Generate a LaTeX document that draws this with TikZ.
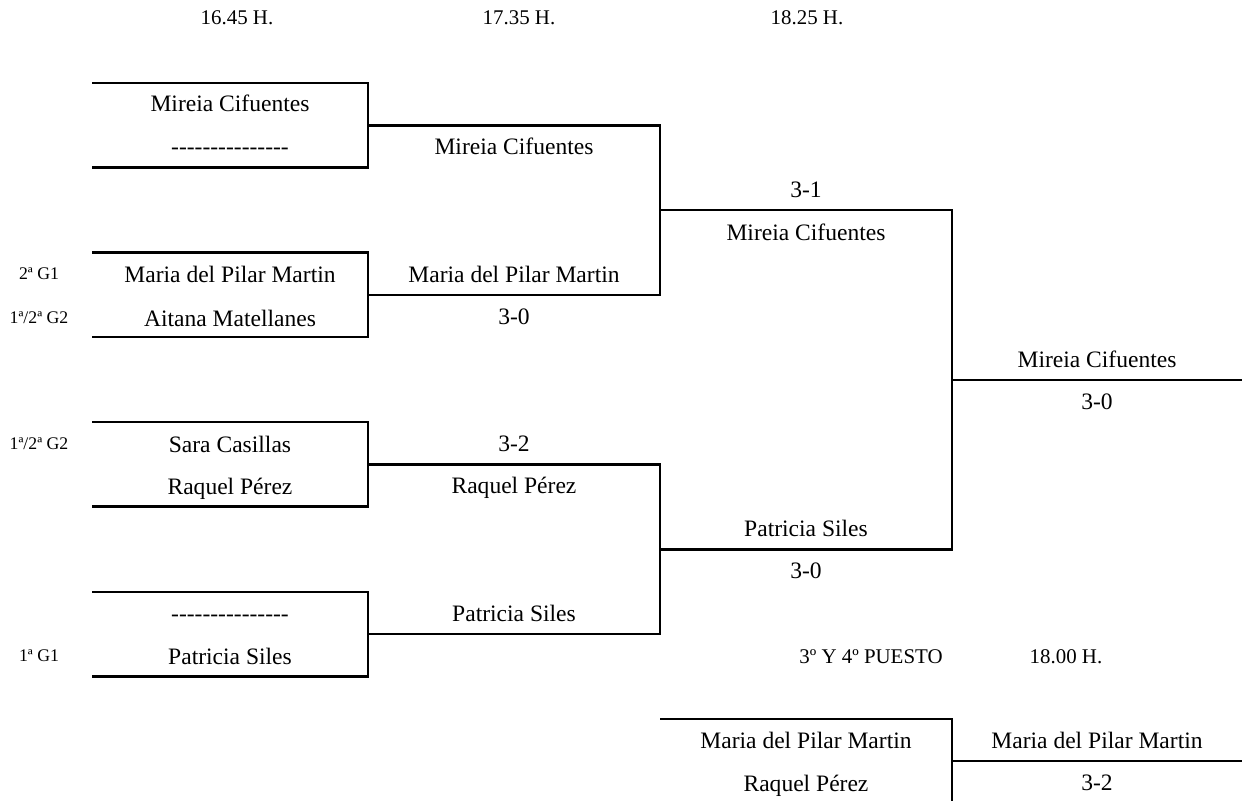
\documentclass[tikz,border=0pt]{standalone}
\usepackage{fontspec}
\setmainfont{Liberation Serif}
\usetikzlibrary{positioning,calc}
\tikzset{
player/.style={anchor=base, inner sep=0pt, font=\fontsize{13.4}{16}\selectfont},
seed/.style={anchor=base, inner sep=0pt, font=\fontsize{10.1}{12}\selectfont},
hora/.style={anchor=base, inner sep=0pt, font=\fontsize{11.9}{14}\selectfont},
bracket/.style={line width=1.3pt},
}
\newcommand{\sinrival}{-{}-{}-{}-{}-{}-{}-{}-{}-{}-{}-{}-{}-{}-{}-}

\begin{document}
\begin{tikzpicture}[x=0.02cm, y=-0.02cm]
  \useasboundingbox (0,0) rectangle (1242,801);

  % horarios
  \node[hora] (h1) at (237,25) {16.45 H.};
  \node[hora] (h2) at (519,25) {17.35 H.};
  \node[hora] (h3) at (807,25) {18.25 H.};

  % cuadro: primera ronda
  \coordinate (a1) at (92,83);    \coordinate (a2) at (92,167.5);
  \coordinate (a3) at (92,252.5); \coordinate (a4) at (92,337);
  \coordinate (a5) at (92,422);   \coordinate (a6) at (92,506.5);
  \coordinate (a7) at (92,592);   \coordinate (a8) at (92,676.5);
  \coordinate (m1) at (368,125.5);
  \coordinate (m2) at (368,295);
  \coordinate (m3) at (368,464.5);
  \coordinate (m4) at (368,634);
  \draw[bracket] (a1) -| (m1) |- (a2);
  \draw[bracket] (a3) -| (m2) |- (a4);
  \draw[bracket] (a5) -| (m3) |- (a6);
  \draw[bracket] (a7) -| (m4) |- (a8);

  % semifinales y final
  \coordinate (k1) at (660,210);
  \coordinate (k2) at (660,549.5);
  \coordinate (f1) at (952,380);
  \coordinate (f2) at (1242,380);
  \draw[bracket] (m1) -| (k1) |- (m2);
  \draw[bracket] (m3) -| (k2) |- (m4);
  \draw[bracket] (k1) -| (f1) |- (k2);
  \draw[bracket] (f1) -- (f2);

  % jugadoras
  \node[player] (p1) at (230,112)   {Mireia Cifuentes};
  \node[player] (p2) at (230,154)   {\sinrival};
  \node[player] (p3) at (230,282.5) {Maria del Pilar Martin};
  \node[player] (p4) at (230,326)   {Aitana Matellanes};
  \node[player] (p5) at (230,452)   {Sara Casillas};
  \node[player] (p6) at (230,494)   {Raquel Pérez};
  \node[player] (p7) at (230,621)   {\sinrival};
  \node[player] (p8) at (230,664)   {Patricia Siles};

  \node[seed] (s3) at (39,279.5) {2ª G1};
  \node[seed] (s4) at (39,323)   {1ª/2ª G2};
  \node[seed] (s5) at (39,449)   {1ª/2ª G2};
  \node[seed] (s8) at (39,661)   {1ª G1};

  % ganadoras y resultados
  \node[player] (q1) at (514,154.5) {Mireia Cifuentes};
  \node[player] (q2) at (514,282)   {Maria del Pilar Martin};
  \node[player] (r2) at (514,324)   {3-0};
  \node[player] (r3) at (514,451.5) {3-2};
  \node[player] (q3) at (514,493.5) {Raquel Pérez};
  \node[player] (q4) at (514,621)   {Patricia Siles};

  \node[player] (r5) at (806,197)   {3-1};
  \node[player] (q5) at (806,240)   {Mireia Cifuentes};
  \node[player] (q6) at (806,536)   {Patricia Siles};
  \node[player] (r6) at (806,578.5) {3-0};

  \node[player] (q7) at (1097,367) {Mireia Cifuentes};
  \node[player] (r7) at (1097,409) {3-0};

  % tercer y cuarto puesto
  \node[hora] (t1) at (871,663)  {3º Y 4º PUESTO};
  \node[hora] (h4) at (1066,663) {18.00 H.};

  \coordinate (c1) at (660,719);
  \coordinate (c2) at (952,801);
  \coordinate (c3) at (952,761);
  \coordinate (c4) at (1242,761);
  \draw[bracket] (c1) -| (c2);
  \draw[bracket] (c3) -- (c4);

  \node[player] (u1) at (806,748.5)  {Maria del Pilar Martin};
  \node[player] (u2) at (806,791)    {Raquel Pérez};
  \node[player] (u3) at (1097,748)   {Maria del Pilar Martin};
  \node[player] (u4) at (1097,790)   {3-2};
\end{tikzpicture}
\end{document}
